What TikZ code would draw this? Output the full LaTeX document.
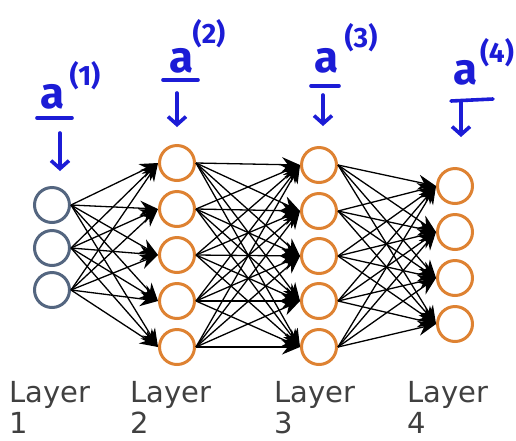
\documentclass[tikz,border=0pt]{standalone}
\usepackage{fontspec}
\setsansfont{DejaVu Sans}
\newfontfamily\handfont{Fira Sans}
\usetikzlibrary{arrows.meta,positioning,calc}
\definecolor{inputgray}{RGB}{84,102,128}
\definecolor{unitorange}{RGB}{222,130,50}
\definecolor{inkblue}{RGB}{28,28,214}
\definecolor{labelgray}{RGB}{64,64,64}

\begin{document}
\begin{tikzpicture}[x=1pt, y=-1pt,
  unit/.style={circle, draw=#1, line width=3pt, minimum size=35pt,
               inner sep=0pt, fill=white},
  edge/.style={black, line width=1.3pt, -{Stealth[length=18pt,width=15pt]}},
  ink/.style={inkblue, line width=3.6pt, line cap=round},
  inkarrow/.style={ink, -{Straight Barb[length=8pt,width=18pt]}},
  layername/.style={font=\sffamily\fontsize{29}{31}\selectfont, text=labelgray,
                    align=left, anchor=north west, inner sep=0pt},
  act/.style={font=\handfont\bfseries\fontsize{44}{44}\selectfont,
              text=inkblue, inner sep=0pt, anchor=base},
  actsup/.style={font=\handfont\bfseries\fontsize{28}{28}\selectfont,
                 text=inkblue, inner sep=0pt},
]
\useasboundingbox (0,0) rectangle (516,440);

% Layer 1 (inputs)
\foreach \y [count=\i] in {205,248,290} {
  \node[unit=inputgray] (l1-\i) at (52,\y) {};
}
% Layers 2 and 3
\foreach \y [count=\i] in {163,209,255,301,347} {
  \node[unit=unitorange] (l2-\i) at (177,\y) {};
}
\foreach \y [count=\i] in {165,211,256,301,347} {
  \node[unit=unitorange] (l3-\i) at (319,\y) {};
}
% Layer 4 (outputs)
\foreach \y [count=\i] in {186,232,278,324} {
  \node[unit=unitorange] (l4-\i) at (455,\y) {};
}

% fully connected edges
\foreach \i in {1,...,3} \foreach \j in {1,...,5} {
  \draw[edge] (l1-\i.east) -- (l2-\j.west);
}
\foreach \i in {1,...,5} \foreach \j in {1,...,5} {
  \draw[edge] (l2-\i.east) -- (l3-\j.west);
}
\foreach \i in {1,...,5} \foreach \j in {1,...,4} {
  \draw[edge] (l3-\i.east) -- (l4-\j.west);
}

% activations a^(k)
\foreach \k/\ax/\ay/\sx/\sy in {1/53/108/85/76, 2/182/72/209/34,
                                3/327/72/361/38, 4/466/84/497/53} {
  \node[act] (a\k) at (\ax,\ay) {a};
  \node[actsup] (a\k-sup) at (\sx,\sy) {(\k)};
}
\draw[ink] (37,118) -- (72,118);
\draw[ink] (163,80) -- (198,80);
\draw[ink] (311,86) -- (339,86);
\draw[ink] (451,101) -- (493,99);
\draw[inkarrow] (60,133) -- ([xshift=8pt,yshift=15pt]l1-1.north);
\draw[inkarrow] (177,93) -- ([yshift=17pt]l2-1.north);
\draw[inkarrow] (323,95) -- ([xshift=4pt,yshift=20pt]l3-1.north);
\draw[inkarrow] (461,101) -- ([xshift=6pt,yshift=30pt]l4-1.north);

% layer names
\node[layername] (n1) at (9,381) {Layer\\1};
\node[layername] (n2) at (130,381) {Layer\\2};
\node[layername] (n3) at (274,381) {Layer\\3};
\node[layername] (n4) at (407,381) {Layer\\4};
\end{tikzpicture}
\end{document}
